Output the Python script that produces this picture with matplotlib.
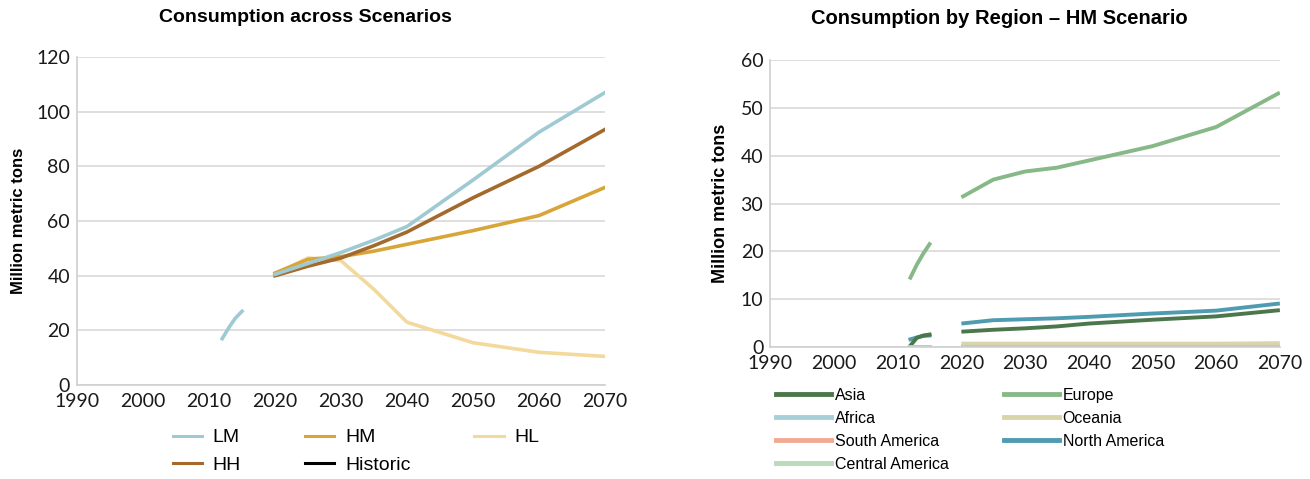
import numpy as np
import matplotlib.pyplot as plt
from matplotlib.lines import Line2D

# left chart: consumption across scenarios
hist_years = [2012, 2013, 2014, 2015]
hist_lm = [17, 21, 24.5, 27]
scen_years = [2020, 2025, 2030, 2035, 2040, 2050, 2060, 2070]
lm = [40.5, 44.5, 48.5, 53, 58, 75, 92.5, 107]
hh = [40, 43.5, 46.5, 51, 56, 68.5, 80, 93.5]
hm = [41, 46, 47, 49, 51.5, 56.5, 62, 72.3]
hl = [40.5, 46.5, 45.5, 35, 23, 15.5, 12, 10.5]

# right chart: consumption by region, HM scenario
reg_hist = {
    'Europe': [14.5, 17.2, 19.5, 21.5],
    'Asia': [0.3, 1.9, 2.4, 2.6],
    'North America': [1.6, 2.0, 2.3, 2.4],
    'Africa': [0.1, 0.1, 0.1, 0.1],
}
asia = [3.2, 3.6, 3.9, 4.3, 4.9, 5.7, 6.4, 7.7]
europe = [31.3, 35, 36.7, 37.5, 39, 42, 46, 53.2]
africa = [0.1, 0.1, 0.1, 0.1, 0.1, 0.1, 0.1, 0.1]
oceania = [0.7, 0.7, 0.7, 0.7, 0.7, 0.7, 0.7, 0.8]
south_america = [0.2, 0.2, 0.2, 0.2, 0.2, 0.2, 0.2, 0.2]
north_america = [4.9, 5.6, 5.8, 6.0, 6.3, 7.0, 7.6, 9.1]
central_america = [0.2, 0.2, 0.2, 0.2, 0.2, 0.2, 0.2, 0.2]

C = {
    'LM': '#9fcad3', 'HH': '#a4692b', 'HM': '#d8a638', 'HL': '#f3d99c',
    'Asia': '#4b774b', 'Europe': '#87b888', 'Africa': '#a7cfd9',
    'Oceania': '#dad4aa', 'South America': '#f0aa92',
    'North America': '#4f9cb0', 'Central America': '#bad9bd',
}

TICKFONT = 'Lato'
plt.rcParams['font.family'] = ['Liberation Sans', 'DejaVu Sans']

fig = plt.figure(figsize=(13.1, 4.79), dpi=100)


def style_axes(ax, ymax, ystep, size, xpad):
    ax.set_xlim(1990, 2070)
    ax.set_ylim(0, ymax)
    ax.set_xticks(np.arange(1990, 2071, 10))
    ax.set_yticks(np.arange(0, ymax + 1, ystep))
    ax.grid(axis='y', color='#d9d9d9', lw=1.2)
    ax.set_axisbelow(True)
    for s in ['top', 'right']:
        ax.spines[s].set_visible(False)
    for s in ['left', 'bottom']:
        ax.spines[s].set_color('#d0d0d0')
        ax.spines[s].set_linewidth(1.2)
    ax.tick_params(length=0, pad=5)
    ax.tick_params(axis='x', pad=xpad)
    for lab in ax.get_xticklabels() + ax.get_yticklabels():
        lab.set_fontfamily(TICKFONT)
        lab.set_fontsize(size)
        lab.set_color('#1a1a1a')


# ---- left
ax1 = fig.add_axes([0.0588, 0.196, 0.403, 0.685])
lw = 2.6
ax1.plot(hist_years, hist_lm, color=C['LM'], lw=lw)
ax1.plot(scen_years, hl, color=C['HL'], lw=lw)
ax1.plot(scen_years, hm, color=C['HM'], lw=lw)
ax1.plot(scen_years, hh, color=C['HH'], lw=lw)
ax1.plot(scen_years, lm, color=C['LM'], lw=lw)
style_axes(ax1, 120, 20, 14, 6)
fig.text(305 / 1310, 1 - 18 / 479, 'Consumption across Scenarios', fontsize=14,
         fontweight='bold', ha='center', va='center')
ax1.set_ylabel('Million metric tons', fontsize=12, fontweight='bold', labelpad=7)

handles = [
    Line2D([], [], color=C['LM'], lw=2.2, label='LM'),
    Line2D([], [], color=C['HH'], lw=2.2, label='HH'),
    Line2D([], [], color=C['HM'], lw=2.2, label='HM'),
    Line2D([], [], color='black', lw=2.2, label='Historic'),
    Line2D([], [], color=C['HL'], lw=2.2, label='HL'),
]
fig.legend(handles=handles, ncol=3, loc='upper left', bbox_to_anchor=(0.1245, 0.125),
           frameon=False, fontsize=14, handlelength=1.5, handletextpad=0.55,
           columnspacing=3.3, labelspacing=0.5, borderpad=0)

# ---- right
ax2 = fig.add_axes([0.588, 0.2756, 0.389, 0.599])
lw2 = 2.8
for name in ['Europe', 'North America', 'Asia', 'Africa']:
    ax2.plot(hist_years, reg_hist[name], color=C[name], lw=lw2)
series = [('South America', south_america), ('Central America', central_america),
          ('Oceania', oceania), ('Africa', africa), ('Europe', europe),
          ('North America', north_america), ('Asia', asia)]
for name, vals in series:
    ax2.plot(scen_years, vals, color=C[name], lw=lw2, solid_capstyle='butt')
style_axes(ax2, 60, 10, 14, 6)
fig.text(999 / 1310, 1 - 18 / 479, 'Consumption by Region \u2013 HM Scenario', fontsize=14.5,
         fontweight='bold', ha='center', va='center')
ax2.set_ylabel('Million metric tons', fontsize=13, fontweight='bold', labelpad=8)

order = ['Asia', 'Africa', 'South America', 'Central America',
         'Europe', 'Oceania', 'North America']
h2 = [Line2D([], [], color=C[n], lw=3.5, label=n) for n in order]
fig.legend(handles=h2, ncol=2, loc='upper left', bbox_to_anchor=(0.5865, 0.207),
           frameon=False, fontsize=11.5, handlelength=3.4, handletextpad=0.25,
           columnspacing=3.5, labelspacing=0.5, borderpad=0)

fig.savefig('out.png', dpi=100)
